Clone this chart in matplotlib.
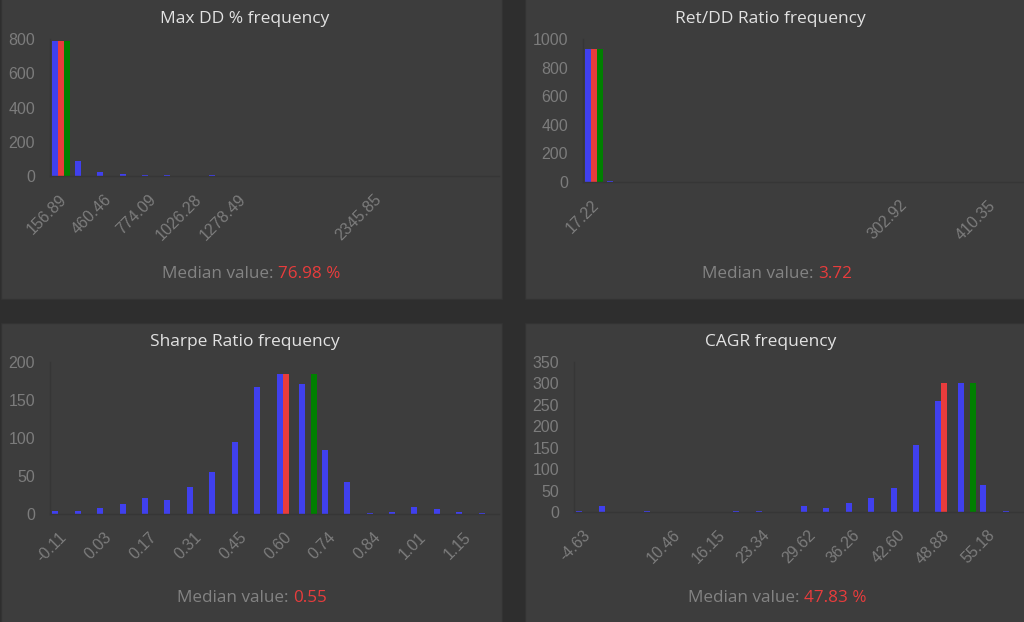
import matplotlib
matplotlib.use("Agg")
import matplotlib.pyplot as plt
from matplotlib.patches import Rectangle
from matplotlib.transforms import ScaledTranslation
from matplotlib.offsetbox import TextArea, HPacker, AnnotationBbox

# Histogram counts per bin (20 bins each)
maxdd_counts = [790, 90, 25, 10, 5, 5, 2, 5, 2, 1, 0, 0, 0, 0, 1, 0, 0, 0, 0, 1]
maxdd_tick_bins = [0, 2, 4, 6, 8, 14]
maxdd_tick_labels = ["156.89", "460.46", "774.09", "1026.28", "1278.49", "2345.85"]
maxdd_median_bin = 0
maxdd_current_bin = 0

retdd_counts = [928, 5, 0, 0, 0, 0, 0, 0, 0, 0, 0, 0, 0, 0, 1, 0, 0, 0, 1, 1]
retdd_tick_bins = [0, 14, 18]
retdd_tick_labels = ["17.22", "302.92", "410.35"]
retdd_median_bin = 0
retdd_current_bin = 0

sharpe_counts = [4, 4, 8, 13, 21, 19, 35, 55, 95, 167, 184, 171, 84, 42, 1, 3, 9, 7, 3, 1]
sharpe_tick_bins = [0, 2, 4, 6, 8, 10, 12, 14, 16, 18]
sharpe_tick_labels = ["-0.11", "0.03", "0.17", "0.31", "0.45", "0.60", "0.74", "0.84", "1.01", "1.15"]
sharpe_median_bin = 10
sharpe_current_bin = 11

cagr_counts = [2, 14, 0, 2, 1, 0, 1, 3, 3, 1, 14, 10, 20, 33, 56, 157, 258, 302, 64, 3]
cagr_tick_bins = [0, 4, 6, 8, 10, 12, 14, 16, 18]
cagr_tick_labels = ["-4.63", "10.46", "16.15", "23.34", "29.62", "36.26", "42.60", "48.88", "55.18"]
cagr_median_bin = 16
cagr_current_bin = 17

W, H = 1024, 622
BG = "#2e2e2e"
PANEL = "#3d3d3d"
BLUE = "#4040ee"
RED = "#e83c3c"
GREEN = "#008000"
TICK = "#7c7c7c"

fig = plt.figure(figsize=(W / 100, H / 100), dpi=100, facecolor=BG)


def px_rect(x0, y0, x1, y1):
    # pixel box (top-left origin) -> figure fraction
    return [x0 / W, 1 - y1 / H, (x1 - x0) / W, (y1 - y0) / H]


def draw_panel(panel, axbox, counts, median_bin, current_bin, tick_bins, tick_labels,
               ymax, ystep, title, title_y, median_text, median_unit, median_y):
    px0, py0, px1, py1 = panel
    fig.add_artist(Rectangle((px0 / W, 1 - py1 / H), (px1 - px0) / W, (py1 - py0) / H,
                             transform=fig.transFigure, facecolor=PANEL,
                             edgecolor="#333333", lw=1, zorder=-1))
    ax = fig.add_axes(px_rect(*axbox))
    ax.set_facecolor("none")

    n = len(counts)
    top = max(counts)
    red = [top if i == median_bin else 0 for i in range(n)]
    green = [top if i == current_bin else 0 for i in range(n)]
    w = 0.8 / 3
    xs = list(range(n))
    ax.bar([x - w for x in xs], counts, width=w, color=BLUE, linewidth=0)
    ax.bar(xs, red, width=w, color=RED, linewidth=0)
    ax.bar([x + w for x in xs], green, width=w, color=GREEN, linewidth=0)

    ax.set_xlim(-0.5, n - 0.5)
    ax.set_ylim(0, ymax)
    ax.set_yticks(range(0, ymax + 1, ystep))
    ax.set_xticks(tick_bins)
    ax.set_xticklabels(tick_labels, rotation=45, ha="right", va="center",
                       rotation_mode="anchor")
    ax.tick_params(axis="both", length=0, colors=TICK, labelsize=11.5,
                   labelfontfamily="Liberation Sans")
    ax.tick_params(axis="y", pad=10.8)
    ax.tick_params(axis="x", pad=15)
    # nudge rotated labels a little to the right, like the original
    shift = ScaledTranslation(3 / 100, 0, fig.dpi_scale_trans)
    for lbl in ax.get_xticklabels():
        lbl.set_transform(lbl.get_transform() + shift)
    for s in ["top", "right"]:
        ax.spines[s].set_visible(False)
    for s in ["left", "bottom"]:
        ax.spines[s].set_color("#363636")
        ax.spines[s].set_linewidth(1)

    cx = (px0 + px1) / 2
    fig.text((cx - 7) / W, 1 - title_y / H, title, ha="center", va="center",
             color="#e2e2e2", fontsize=12.5, family="Open Sans")

    label = TextArea("Median value:", textprops=dict(color="#838383", fontsize=12.3,
                                                     family="Open Sans"))
    value = TextArea(median_text + median_unit, textprops=dict(color=RED, fontsize=12.3,
                                                               family="Open Sans"))
    box = HPacker(children=[label, value], align="center", pad=0, sep=3.4)
    ab = AnnotationBbox(box, (cx / W, 1 - median_y / H), xycoords="figure fraction",
                        box_alignment=(0.5, 0.5), frameon=False, pad=0)
    fig.add_artist(ab)


draw_panel((1, -5, 502, 299), (50, 39, 499, 176), maxdd_counts, maxdd_median_bin,
           maxdd_current_bin, maxdd_tick_bins, maxdd_tick_labels, 800, 200,
           "Max DD % frequency", 19, "76.98", " %", 274)
draw_panel((525, -5, 1030, 299), (583, 39, 1023, 182), retdd_counts, retdd_median_bin,
           retdd_current_bin, retdd_tick_bins, retdd_tick_labels, 1000, 200,
           "Ret/DD Ratio frequency", 19, "3.72", "", 274)
draw_panel((1, 323, 502, 630), (50, 362, 499, 514), sharpe_counts, sharpe_median_bin,
           sharpe_current_bin, sharpe_tick_bins, sharpe_tick_labels, 200, 50,
           "Sharpe Ratio frequency", 342, "0.55", "", 598)
draw_panel((525, 323, 1030, 630), (574, 362, 1023, 512), cagr_counts, cagr_median_bin,
           cagr_current_bin, cagr_tick_bins, cagr_tick_labels, 350, 50,
           "CAGR frequency", 342, "47.83", " %", 598)

fig.savefig("out.png", dpi=100, facecolor=BG)
